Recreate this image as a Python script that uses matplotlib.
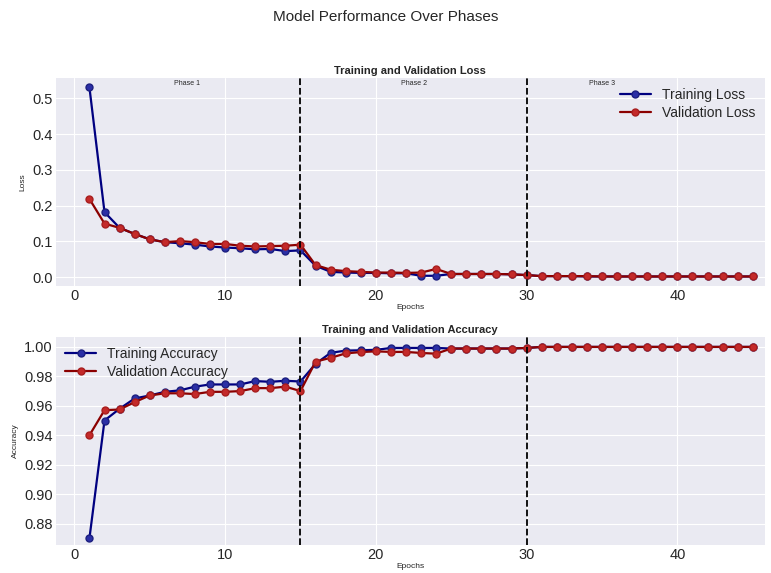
import numpy as np
import matplotlib.pyplot as plt
from matplotlib.ticker import MultipleLocator, FormatStrFormatter

plt.style.use('seaborn-v0_8-darkgrid')

epochs = np.arange(1, 46)

train_loss = [0.531, 0.182, 0.138, 0.121, 0.106, 0.098, 0.095, 0.091, 0.086, 0.083,
              0.081, 0.078, 0.079, 0.073, 0.075, 0.032, 0.015, 0.013, 0.012, 0.012,
              0.011, 0.011, 0.004, 0.004, 0.009, 0.009, 0.009, 0.009, 0.008, 0.006,
              0.003, 0.003, 0.003, 0.002, 0.002, 0.002, 0.002, 0.002, 0.002, 0.002,
              0.002, 0.002, 0.002, 0.002, 0.002]
val_loss = [0.219, 0.150, 0.138, 0.121, 0.106, 0.098, 0.101, 0.098, 0.093, 0.093,
            0.088, 0.086, 0.087, 0.088, 0.091, 0.034, 0.021, 0.017, 0.015, 0.013,
            0.013, 0.012, 0.013, 0.023, 0.009, 0.009, 0.009, 0.009, 0.008, 0.006,
            0.003, 0.003, 0.003, 0.003, 0.002, 0.002, 0.002, 0.002, 0.002, 0.002,
            0.002, 0.002, 0.002, 0.002, 0.002]

train_acc = [0.870, 0.950, 0.958, 0.965, 0.967, 0.9695, 0.9705, 0.973, 0.9745, 0.9745,
             0.9745, 0.9768, 0.9763, 0.977, 0.9765, 0.9885, 0.996, 0.9975, 0.9977, 0.998,
             0.9993, 0.9993, 0.9993, 0.9993, 0.9989, 0.9989, 0.9989, 0.9989, 0.9989, 0.9993,
             1.0, 1.0, 1.0, 1.0, 1.0, 1.0, 1.0, 1.0, 1.0, 1.0,
             1.0, 1.0, 1.0, 1.0, 1.0]
val_acc = [0.940, 0.957, 0.9575, 0.9625, 0.967, 0.9685, 0.9685, 0.968, 0.9695, 0.9695,
           0.970, 0.972, 0.972, 0.973, 0.970, 0.990, 0.9926, 0.9956, 0.9965, 0.997,
           0.9966, 0.9966, 0.9959, 0.9954, 0.9989, 0.9989, 0.9989, 0.9989, 0.9989, 0.9993,
           1.0, 1.0, 1.0, 1.0, 1.0, 1.0, 1.0, 1.0, 1.0, 1.0,
           1.0, 1.0, 1.0, 1.0, 1.0]

phase_bounds = [15, 30]
phase_names = ['Phase 1', 'Phase 2', 'Phase 3']
phase_centers = [7.5, 22.5, 35]

fig, (ax1, ax2) = plt.subplots(2, 1, figsize=(7.71, 5.73), dpi=100)
fig.subplots_adjust(left=0.072, right=0.992, top=0.864, bottom=0.049, hspace=0.245)
fig.suptitle('Model Performance Over Phases', fontsize=11, y=0.983)

tr = dict(color='navy', marker='o', markersize=5, markerfacecolor='#2b2fa6',
          markeredgecolor='#1c1f80', linewidth=1.6)
va = dict(color='#8b0000', marker='o', markersize=5, markerfacecolor='#c42a2a',
          markeredgecolor='#a81e1e', linewidth=1.6)

# loss panel
ax1.plot(epochs, train_loss, label='Training Loss', **tr)
ax1.plot(epochs, val_loss, label='Validation Loss', **va)
ax1.set_title('Training and Validation Loss', fontsize=8, fontweight='bold', pad=3)
ax1.set_ylabel('Loss', fontsize=6)
ax1.set_xlabel('Epochs', fontsize=6, labelpad=1)
ax1.legend(loc='upper right', fontsize=10, borderpad=0.2, handlelength=2.2, labelspacing=0.3)
for xb in phase_bounds:
    ax1.axvline(xb, color='black', linestyle='--', linewidth=1.3)
for xc, name in zip(phase_centers, phase_names):
    ax1.text(xc, 0.99, name, transform=ax1.get_xaxis_transform(), ha='center', va='top', fontsize=5)

# accuracy panel
ax2.plot(epochs, train_acc, label='Training Accuracy', **tr)
ax2.plot(epochs, val_acc, label='Validation Accuracy', **va)
ax2.set_title('Training and Validation Accuracy', fontsize=8, fontweight='bold', pad=3)
ax2.set_ylabel('Accuracy', fontsize=6)
ax2.set_xlabel('Epochs', fontsize=6, labelpad=1)
ax2.legend(loc='upper left', fontsize=10, borderpad=0.2, handlelength=2.2, labelspacing=0.3)
for xb in phase_bounds:
    ax2.axvline(xb, color='black', linestyle='--', linewidth=1.3)
ax2.set_ylim(0.8655, 1.0068)
ax2.yaxis.set_major_locator(MultipleLocator(0.02))
ax2.yaxis.set_major_formatter(FormatStrFormatter('%.2f'))

for ax in (ax1, ax2):
    ax.set_xlim(-1.25, 45.8)
    ax.tick_params(labelsize=10.5, pad=2)

plt.savefig('out.png', dpi=100)
